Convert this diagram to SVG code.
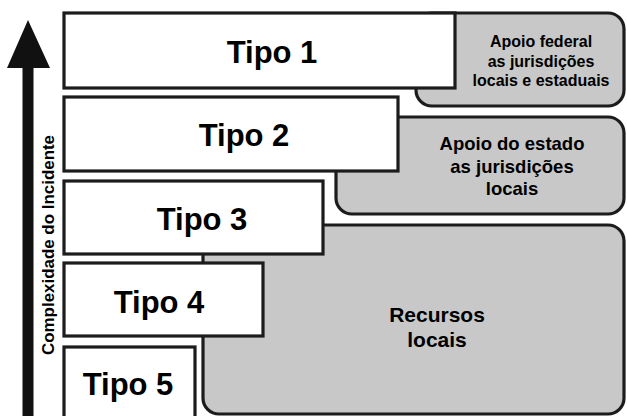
<svg xmlns="http://www.w3.org/2000/svg" width="627" height="416" viewBox="0 0 627 416">
  <style>
    .tier { fill: #ffffff; stroke: #1c1c1c; stroke-width: 3.2; }
    .support { fill: #c8c8c8; stroke: #1c1c1c; stroke-width: 3.2; }
    .tipo { font-family: "Liberation Sans", Arial, sans-serif; font-weight: bold; font-size: 31px; fill: #000; text-anchor: middle; }
    .lbl { font-family: "Liberation Sans", Arial, sans-serif; font-weight: bold; fill: #000; text-anchor: middle; }
  </style>
  <rect width="627" height="416" fill="#ffffff"/>

  <!-- support levels (behind the tiers) -->
  <g id="apoio-federal">
    <rect class="support" x="416" y="13" width="208" height="93" rx="16"/>
    <text class="lbl" font-size="16" x="541" y="47">Apoio federal</text>
    <text class="lbl" font-size="16" x="541" y="66.5">as jurisdições</text>
    <text class="lbl" font-size="16" x="541" y="86">locais e estaduais</text>
  </g>
  <g id="apoio-estado">
    <rect class="support" x="336" y="117" width="288" height="97" rx="16"/>
    <text class="lbl" font-size="18.5" x="512" y="150">Apoio do estado</text>
    <text class="lbl" font-size="18.5" x="512" y="172.5">as jurisdições</text>
    <text class="lbl" font-size="18.5" x="512" y="195">locais</text>
  </g>
  <g id="recursos-locais">
    <rect class="support" x="203" y="225" width="421" height="189" rx="16"/>
    <text class="lbl" font-size="21" x="437" y="322">Recursos</text>
    <text class="lbl" font-size="21" x="437" y="347">locais</text>
  </g>

  <!-- incident tiers -->
  <g id="tipo-1">
    <rect class="tier" x="64" y="13" width="391" height="75"/>
    <text class="tipo" x="272" y="63">Tipo 1</text>
  </g>
  <g id="tipo-2">
    <rect class="tier" x="64" y="97" width="334" height="74"/>
    <text class="tipo" x="244" y="146">Tipo 2</text>
  </g>
  <g id="tipo-3">
    <rect class="tier" x="64" y="181" width="259" height="73"/>
    <text class="tipo" x="202" y="230">Tipo 3</text>
  </g>
  <g id="tipo-4">
    <rect class="tier" x="64" y="263" width="199" height="73"/>
    <text class="tipo" x="159" y="313">Tipo 4</text>
  </g>
  <g id="tipo-5">
    <rect class="tier" x="64" y="347" width="131" height="80"/>
    <text class="tipo" x="128" y="395">Tipo 5</text>
  </g>

  <!-- complexity axis -->
  <g id="connectors">
    <path d="M28 20 L50 68 L33.5 68 L33.5 416 L22.5 416 L22.5 68 L7 68 Z" fill="#111"/>
    <text class="lbl" font-size="16" transform="translate(53.5 245) rotate(-90)" textLength="220" lengthAdjust="spacingAndGlyphs">Complexidade do Incidente</text>
  </g>
</svg>
